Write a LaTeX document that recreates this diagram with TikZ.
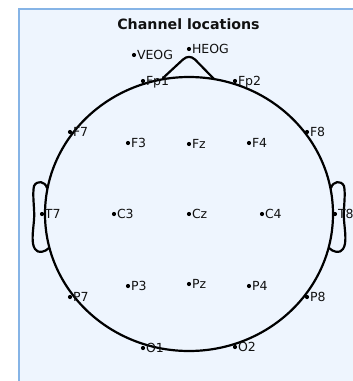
\documentclass[tikz,border=0pt]{standalone}
\usepackage{fontspec}
\setmainfont{DejaVu Sans}
\definecolor{panelbg}{HTML}{EEF5FE}
\definecolor{panelborder}{HTML}{86B4E6}
\definecolor{inkc}{HTML}{111111}
\begin{document}
\begin{tikzpicture}[x=1pt,y=-1pt,
  elec/.style={circle,fill=black,inner sep=0pt,minimum size=4.2pt},
  lab/.style={font=\fontsize{12.5}{14}\selectfont, text=inkc, inner sep=0pt, anchor=base west},
  titlestyle/.style={font=\bfseries\fontsize{14.2}{16}\selectfont, text=inkc, inner sep=0pt},
  headline/.style={line width=2.2pt, line join=round, line cap=round}]
\useasboundingbox (0,0) rectangle (353,381);
\fill[panelbg] (18.5,8.5) rectangle (360,390);
\draw[panelborder, line width=2pt] (18.5,390) -- (18.5,8.5) -- (360,8.5);
\node[titlestyle] (title) at (188.5,24) {Channel locations};
% head
\draw[headline] (189,214) ellipse [x radius=144, y radius=137];
% nose
\draw[headline] (163,78) -- (183,59.5) .. controls (187,56) and (191,56) .. (195,59.5) -- (214,79);
% ears
\draw[headline] (47,188) .. controls (45,181) and (37,180) .. (34,186) .. controls (32,195) and (35,210) .. (34,220) .. controls (33,232) and (31,243) .. (35,249) .. controls (38,254) and (45,252) .. (49,248);
\draw[headline] (331,188) .. controls (333,181) and (341,180) .. (344,186) .. controls (346,195) and (343,210) .. (344,220) .. controls (345,232) and (347,243) .. (343,249) .. controls (340,254) and (333,252) .. (329,248);
% electrodes
\foreach \n/\x/\y in {VEOG/134/55, HEOG/189/49, Fp1/143/81, Fp2/235/81, F7/70/132, F3/128/143, Fz/189/144, F4/249/143, F8/307/132, T7/42/214, C3/114/214, Cz/189/214, C4/262/214, T8/335/214, P7/70/297, P3/128/286, Pz/189/284, P4/249/286, P8/307/297, O1/143/348, O2/235/347}{
  \node[elec] (e\n) at (\x,\y) {};
  \node[lab] (l\n) at ([xshift=2.8pt,yshift=-4.5pt]e\n.center) {\n};
}
\end{tikzpicture}
\end{document}
